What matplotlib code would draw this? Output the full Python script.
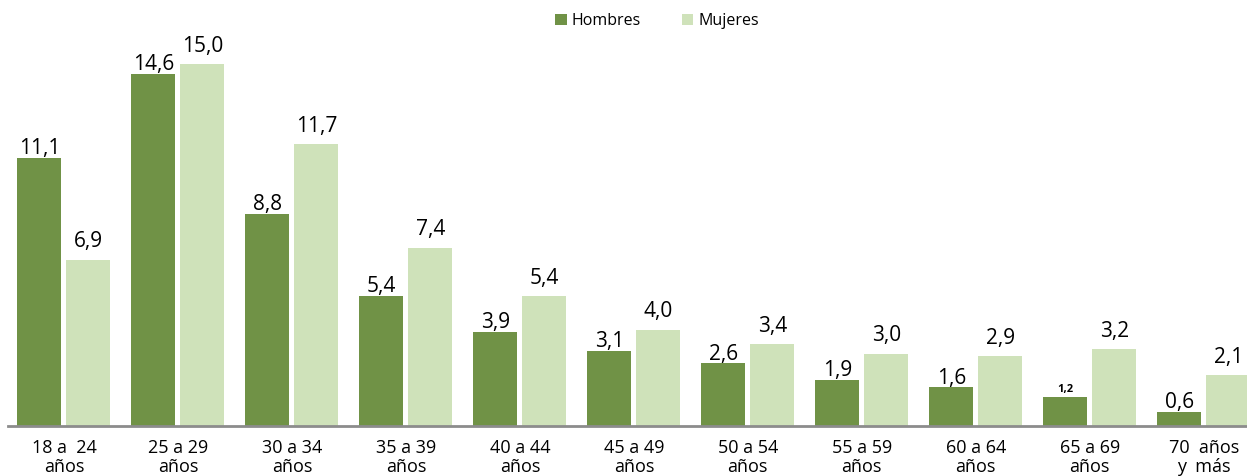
import numpy as np
import matplotlib.pyplot as plt

plt.rcParams['font.family'] = ['Open Sans', 'DejaVu Sans']

# datos
grupos = ['18 a  24\naños', '25 a 29\naños', '30 a 34\naños', '35 a 39\naños',
          '40 a 44\naños', '45 a 49\naños', '50 a 54\naños', '55 a 59\naños',
          '60 a 64\naños', '65 a 69\naños', '70  años\ny  más']
hombres = [11.1, 14.6, 8.8, 5.4, 3.9, 3.1, 2.6, 1.9, 1.6, 1.2, 0.6]
mujeres = [6.9, 15.0, 11.7, 7.4, 5.4, 4.0, 3.4, 3.0, 2.9, 3.2, 2.1]

col_h = '#709246'
col_m = '#CFE2BA'

fig = plt.figure(figsize=(12.47, 4.76), dpi=100)
ax = fig.add_axes([0.0065, 0.105, 0.9935, 0.895])

x = np.arange(len(grupos))
w = 0.386
off = 0.215
b1 = ax.bar(x - off, hombres, w, color=col_h, label='Hombres')
b2 = ax.bar(x + off, mujeres, w, color=col_m, label='Mujeres')

def fmt(v):
    return f'{v:.1f}'.replace('.', ',')

for i, (r, v) in enumerate(zip(b1, hombres)):
    if v == 1.2:
        ax.text(r.get_x() + r.get_width() / 2, v + 0.1, fmt(v), ha='center', va='bottom',
                fontsize=8, fontweight='bold')
    else:
        ax.text(r.get_x() + r.get_width() / 2, v - 0.05, fmt(v), ha='center', va='bottom',
                fontsize=15)
for r, v in zip(b2, mujeres):
    ax.text(r.get_x() + r.get_width() / 2, v + 0.3, fmt(v), ha='center', va='bottom',
            fontsize=15)

ax.set_xlim(-0.49, 10.38)
ax.set_ylim(0, 17.66)
ax.set_xticks(x)
ax.set_xticklabels(grupos, fontsize=13, linespacing=1.1)
ax.tick_params(axis='x', length=0, pad=9)
ax.set_yticks([])
for s in ['top', 'right', 'left']:
    ax.spines[s].set_visible(False)
ax.spines['bottom'].set_color('#8c8c8c')
ax.spines['bottom'].set_linewidth(2)

fig.legend(handles=[b1, b2], loc='center', bbox_to_anchor=(0.527, 0.955), ncol=2,
           frameon=False, fontsize=11.5, handlelength=0.7, handleheight=0.7,
           handletextpad=0.3, columnspacing=2.6)

plt.savefig('out.png', dpi=100)
